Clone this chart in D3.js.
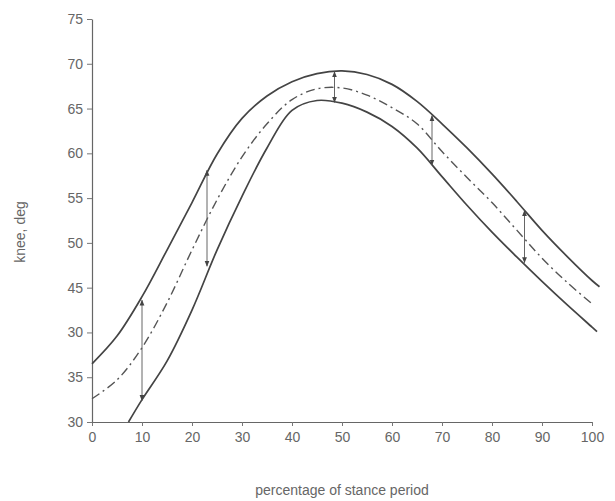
<!DOCTYPE html>
<html>
<head>
<meta charset="utf-8">
<script src="https://cdn.jsdelivr.net/npm/d3@7"></script>
<style>
  body { margin: 0; background: #fff; }
  svg text { font-family: "Liberation Sans", Arial, sans-serif; fill: #666; }
</style>
</head>
<body>
<div class="container"></div>
<script>
// percentage of stance period -> knee angle (deg)
var upperX = [0, 5, 10, 15, 20, 25, 30, 35, 40, 45, 50, 55, 60, 65, 70, 75, 80, 85, 90, 95, 100, 101.5];
var upperY = [36.5, 39.6, 44, 49.2, 54.5, 59.9, 63.9, 66.4, 68, 68.9, 69.2, 68.8, 67.7, 65.8, 63.3, 60.6, 57.7, 54.6, 51.4, 48.5, 45.8, 45.1];

var meanX = [0, 5, 10, 15, 20, 25, 30, 35, 40, 45, 50, 55, 60, 65, 70, 75, 80, 85, 90, 95, 100];
var meanY = [32.6, 34.7, 38.3, 43.3, 49.2, 54.8, 59.6, 63.3, 66, 67.2, 67.3, 66.5, 65.1, 63.3, 60.2, 57.3, 54.5, 51.4, 48.3, 45.6, 43.2];

var lowerX = [7.3, 10, 15, 20, 25, 30, 35, 40, 45, 50, 55, 60, 65, 70, 75, 80, 85, 90, 95, 100, 101];
var lowerY = [30, 32.5, 36.8, 42.5, 49.2, 55.2, 60.6, 64.8, 65.9, 65.6, 64.6, 63, 60.6, 57.4, 54.2, 51.2, 48.4, 45.7, 43.1, 40.6, 40.1];

// double arrows between the bounds
var arrowX = [10, 23, 48.5, 68, 86.5];
var arrowTop = [43.6, 58.1, 69.1, 64.2, 53.6];
var arrowBottom = [32.4, 47.4, 65.7, 58.7, 47.8];

var xTicks = [0, 10, 20, 30, 40, 50, 60, 70, 80, 90, 100];
var yTicks = [30, 35, 40, 45, 50, 55, 60, 65, 70, 75];
var yTickLabels = ["30", "35", "30", "45", "50", "55", "60", "65", "70", "75"]; // as printed

var w = 615, h = 501;
var svg = d3.select(".container").append("svg")
  .attr("width", w).attr("height", h);

var x = d3.scaleLinear().domain([0, 100]).range([92, 592]);
var y = d3.scaleLinear().domain([30, 75]).range([422, 19]);

// arrow heads
var defs = svg.append("defs");
defs.append("marker")
  .attr("id", "head")
  .attr("viewBox", "0 0 10 10")
  .attr("refX", 9).attr("refY", 5)
  .attr("markerWidth", 6).attr("markerHeight", 6)
  .attr("orient", "auto-start-reverse")
  .append("path")
  .attr("d", "M0,1 L10,5 L0,9 Z")
  .attr("fill", "#444");

// axes
var xAxis = d3.axisBottom(x).tickValues(xTicks).tickSize(4).tickPadding(6).tickSizeOuter(0);
var yAxis = d3.axisLeft(y).tickValues(yTicks).tickSize(5).tickPadding(4).tickSizeOuter(0)
  .tickFormat(function(d, i) { return yTickLabels[i]; });

var gx = svg.append("g").attr("transform", "translate(0," + y(30) + ")").call(xAxis);
var gy = svg.append("g").attr("transform", "translate(" + x(0) + ",0)").call(yAxis);

[gx, gy].forEach(function(g) {
  g.select(".domain").attr("stroke", "#666").attr("stroke-width", 1.2);
  g.selectAll(".tick line").attr("stroke", "#777").attr("stroke-width", 1);
  g.selectAll(".tick text").attr("font-size", 14).attr("fill", "#666")
    .style("font-family", "'Liberation Sans', Arial, sans-serif");
});

// curves
var line = d3.line()
  .x(function(d) { return x(d[0]); })
  .y(function(d) { return y(d[1]); })
  .curve(d3.curveCatmullRom);

svg.append("path")
  .datum(d3.zip(upperX, upperY))
  .attr("d", line)
  .attr("fill", "none").attr("stroke", "#444").attr("stroke-width", 1.7);

svg.append("path")
  .datum(d3.zip(lowerX, lowerY))
  .attr("d", line)
  .attr("fill", "none").attr("stroke", "#444").attr("stroke-width", 1.7);

svg.append("path")
  .datum(d3.zip(meanX, meanY))
  .attr("d", line)
  .attr("fill", "none").attr("stroke", "#555").attr("stroke-width", 1.4)
  .attr("stroke-dasharray", "9,4,2,4");

// arrows
svg.selectAll(".arrow")
  .data(d3.zip(arrowX, arrowTop, arrowBottom))
  .enter().append("line")
  .attr("class", "arrow")
  .attr("x1", function(d) { return x(d[0]); })
  .attr("x2", function(d) { return x(d[0]); })
  .attr("y1", function(d) { return y(d[1]); })
  .attr("y2", function(d) { return y(d[2]); })
  .attr("stroke", "#666").attr("stroke-width", 1)
  .attr("marker-start", "url(#head)")
  .attr("marker-end", "url(#head)");

// labels
svg.append("text")
  .attr("x", 342).attr("y", 495)
  .attr("text-anchor", "middle")
  .attr("font-size", 14)
  .text("percentage of stance period");

svg.append("text")
  .attr("transform", "translate(25,232) rotate(-90)")
  .attr("text-anchor", "middle")
  .attr("font-size", 14)
  .text("knee, deg");
</script>
</body>
</html>
